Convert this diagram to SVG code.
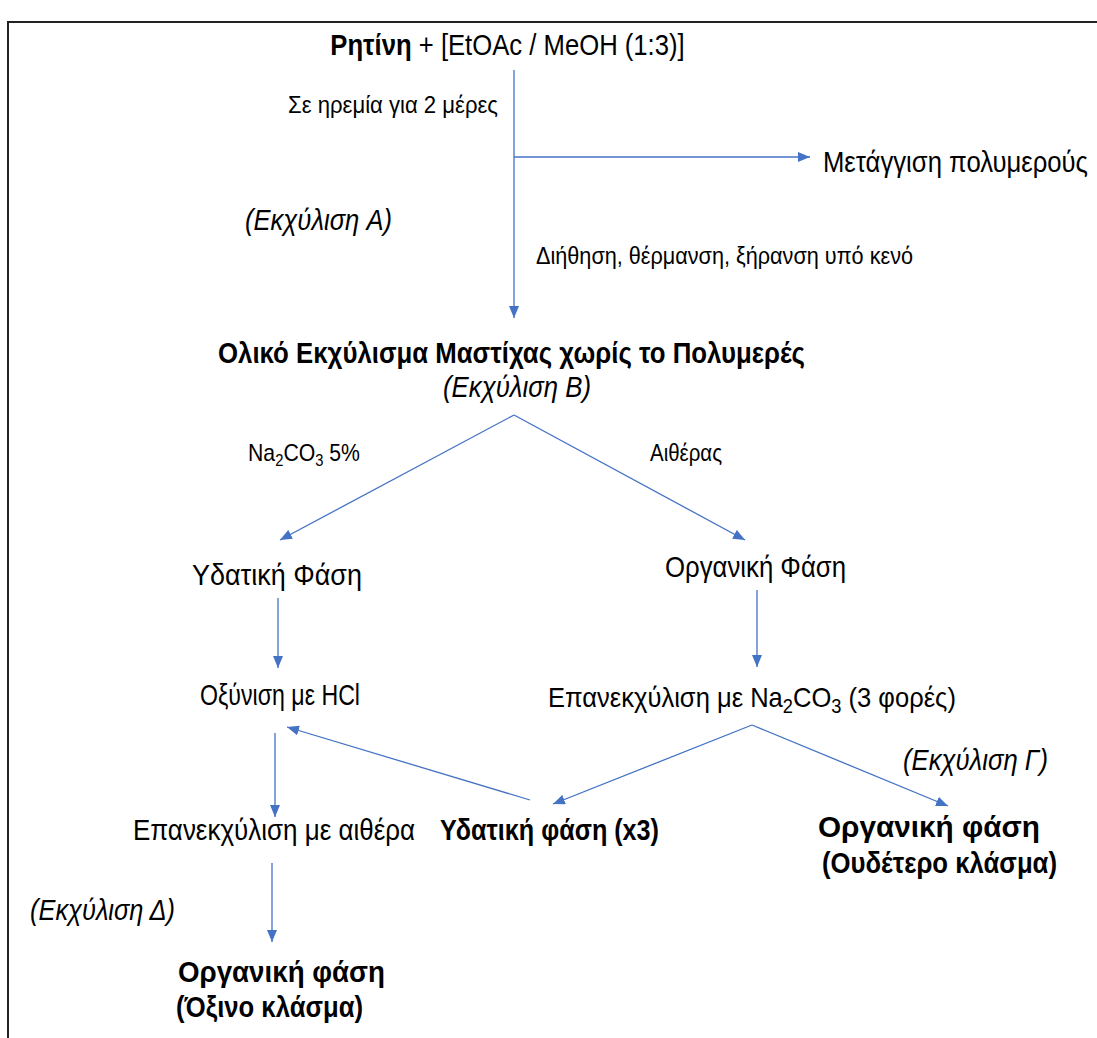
<svg xmlns="http://www.w3.org/2000/svg" width="1097" height="1038" viewBox="0 0 1097 1038">
<style>
text{font-family:"Liberation Sans",Arial,sans-serif;fill:#000}
.L{font-size:29px}
.S{font-size:23px}
.b{font-weight:bold}
.i{font-style:italic}
.c{fill:none;stroke:#4472C4;stroke-width:1.3}
</style>
<defs>
<marker id="ah" viewBox="0 0 12 10" refX="12" refY="5" markerWidth="12" markerHeight="10" markerUnits="userSpaceOnUse" orient="auto">
<path d="M0,0 L12,5 L0,10 Z" fill="#4472C4"/>
</marker>
</defs>
<rect width="1097" height="1038" fill="#fff"/>
<path d="M8,1040 L8,22 L1100,22" fill="none" stroke="#222" stroke-width="2"/>
<g id="connectors">
<line class="c" x1="514" y1="70" x2="514" y2="318" marker-end="url(#ah)"/>
<line class="c" x1="514" y1="157" x2="810" y2="157" marker-end="url(#ah)"/>
<line class="c" x1="514" y1="415" x2="280" y2="540" marker-end="url(#ah)"/>
<line class="c" x1="514" y1="415" x2="745" y2="540" marker-end="url(#ah)"/>
<line class="c" x1="278" y1="598" x2="278" y2="668" marker-end="url(#ah)"/>
<line class="c" x1="757" y1="590" x2="757" y2="667" marker-end="url(#ah)"/>
<line class="c" x1="752" y1="725" x2="553" y2="804" marker-end="url(#ah)"/>
<line class="c" x1="752" y1="725" x2="948" y2="806" marker-end="url(#ah)"/>
<line class="c" x1="530" y1="800" x2="287" y2="727" marker-end="url(#ah)"/>
<line class="c" x1="275" y1="733" x2="275" y2="817" marker-end="url(#ah)"/>
<line class="c" x1="272" y1="863" x2="272" y2="942" marker-end="url(#ah)"/>
</g>
<g id="n-resin"><text class="L" text-anchor="middle" transform="translate(507.5,55) scale(0.885,1)"><tspan class="b">Ρητίνη</tspan> + [EtOAc / MeOH (1:3)]</text></g>
<g id="l-rest"><text class="S" x="288" y="113" textLength="210" lengthAdjust="spacingAndGlyphs">Σε ηρεμία για 2 μέρες</text></g>
<g id="n-decant"><text class="L" text-anchor="end" transform="translate(1088,172) scale(0.886,1)">Μετάγγιση πολυμερούς</text></g>
<g id="l-extA"><text class="L i" x="245" y="230" textLength="147" lengthAdjust="spacingAndGlyphs">(Εκχύλιση A)</text></g>
<g id="l-filter"><text class="S" x="536" y="264" textLength="377" lengthAdjust="spacingAndGlyphs">Διήθηση, θέρμανση, ξήρανση υπό κενό</text></g>
<g id="n-total">
<text class="L b" x="218" y="363" textLength="587" lengthAdjust="spacingAndGlyphs">Ολικό Εκχύλισμα Μαστίχας χωρίς το Πολυμερές</text>
<text class="L i" x="443" y="397" textLength="148" lengthAdjust="spacingAndGlyphs">(Εκχύλιση B)</text>
</g>
<g id="l-na2co3"><text class="S" text-anchor="middle" transform="translate(304,461) scale(0.923,1)">Na<tspan font-size="16" dy="5">2</tspan><tspan dy="-5">CO</tspan><tspan font-size="16" dy="5">3</tspan><tspan dy="-5"> 5%</tspan></text></g>
<g id="l-ether"><text class="S" x="650" y="461" textLength="72" lengthAdjust="spacingAndGlyphs">Αιθέρας</text></g>
<g id="n-aq"><text class="L" x="192" y="585" textLength="170" lengthAdjust="spacingAndGlyphs">Υδατική Φάση</text></g>
<g id="n-org"><text class="L" x="665" y="577" textLength="181" lengthAdjust="spacingAndGlyphs">Οργανική Φάση</text></g>
<g id="n-acid"><text class="L" x="200" y="705" textLength="160" lengthAdjust="spacingAndGlyphs">Οξύνιση με HCl</text></g>
<g id="n-reext"><text font-size="28" transform="translate(548,707) scale(0.913,1)">Επανεκχύλιση με Na<tspan font-size="20" dy="6">2</tspan><tspan dy="-6">CO</tspan><tspan font-size="20" dy="6">3</tspan><tspan dy="-6"> (3 φορές)</tspan></text></g>
<g id="l-extG"><text class="L i" x="903" y="770" textLength="145" lengthAdjust="spacingAndGlyphs">(Εκχύλιση Γ)</text></g>
<g id="n-reether"><text class="L" x="133" y="840" textLength="282" lengthAdjust="spacingAndGlyphs">Επανεκχύλιση με αιθέρα</text></g>
<g id="n-aq3"><text class="L b" x="440" y="840" textLength="219" lengthAdjust="spacingAndGlyphs">Υδατική φάση (x3)</text></g>
<g id="n-neutral">
<text class="L b" x="818" y="837" textLength="222" lengthAdjust="spacingAndGlyphs">Οργανική φάση</text>
<text class="L b" x="822" y="873" textLength="235" lengthAdjust="spacingAndGlyphs">(Ουδέτερο κλάσμα)</text>
</g>
<g id="l-extD"><text class="L i" x="30" y="920" textLength="145" lengthAdjust="spacingAndGlyphs">(Εκχύλιση Δ)</text></g>
<g id="n-acidic">
<text class="L b" x="178" y="982" textLength="207" lengthAdjust="spacingAndGlyphs">Οργανική φάση</text>
<text class="L b" x="176" y="1017" textLength="187" lengthAdjust="spacingAndGlyphs">(Όξινο κλάσμα)</text>
</g>
</svg>
